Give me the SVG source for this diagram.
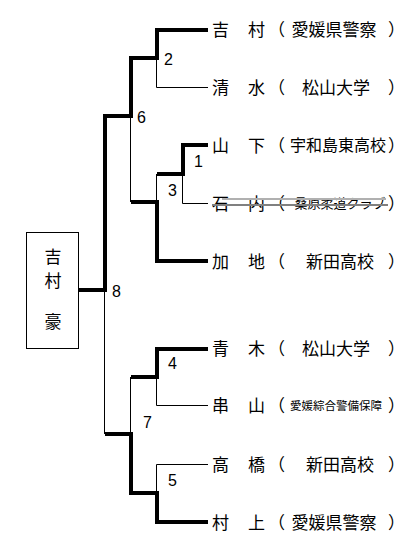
<svg xmlns="http://www.w3.org/2000/svg" width="407" height="552" viewBox="0 0 407 552">
<style>
.thick{fill:none;stroke:#000;stroke-width:4;stroke-linejoin:miter;stroke-linecap:butt}
.thin{fill:none;stroke:#000;stroke-width:1}
.nm{font-family:"Noto Sans CJK JP","Noto Sans CJK SC",sans-serif;font-size:17px;fill:#000}
.org{font-family:"Noto Sans CJK JP","Noto Sans CJK SC",sans-serif;fill:#000;text-anchor:middle}
.pr{font-family:"Noto Sans CJK JP","Noto Sans CJK SC",sans-serif;font-size:17px;fill:#000}
.num{font-family:"Liberation Sans",Arial,sans-serif;font-size:16px;fill:#000}
</style>
<rect width="407" height="552" fill="#fff"/>
<g id="connectors">
<path class="thick" d="M208,30 H157 V58 H131 V116 H105 V290 H79"/>
<path class="thick" d="M208,145 H183 V174 H157"/>
<path class="thick" d="M208,261 H157 V202 H131"/>
<path class="thick" d="M208,349 H157 V377 H131"/>
<path class="thick" d="M208,522 H157 V493 H131 V434 H105"/>
<path class="thin" d="M208,87.5 H156.5 V58"/>
<path class="thin" d="M208,203.5 H182.5 V174"/>
<path class="thin" d="M156.5,174 V202"/>
<path class="thin" d="M130.5,116 V202"/>
<path class="thin" d="M104.5,290 V434"/>
<path class="thin" d="M208,405.5 H156.5 V377"/>
<path class="thin" d="M208,464.5 H156.5 V493"/>
<path class="thin" d="M130.5,377 V434"/>
</g>
<g id="labels">
<text class="num" x="164" y="65">2</text>
<text class="num" x="137" y="123">6</text>
<text class="num" x="112" y="297">8</text>
<text class="num" x="194" y="167">1</text>
<text class="num" x="168" y="196">3</text>
<text class="num" x="168" y="369">4</text>
<text class="num" x="143" y="428">7</text>
<text class="num" x="168" y="486">5</text>
</g>
<g id="champion">
<rect x="26.5" y="232.5" width="52" height="116" fill="#fff" stroke="#000" stroke-width="1"/>
<text class="nm" x="53" y="263" text-anchor="middle">吉</text>
<text class="nm" x="53" y="287" text-anchor="middle">村</text>
<text class="nm" x="53" y="328" text-anchor="middle">豪</text>
</g>
<g id="p1">
<text class="nm" x="212" y="36">吉</text><text class="nm" x="248" y="36">村</text>
<text class="pr" x="268" y="36">（</text><text class="org" x="334" y="36" font-size="17">愛媛県警察</text><text class="pr" x="388" y="36">）</text>
</g>
<g id="p2">
<text class="nm" x="212" y="94">清</text><text class="nm" x="248" y="94">水</text>
<text class="pr" x="268" y="94">（</text><text class="org" x="336" y="94" font-size="17">松山大学</text><text class="pr" x="388" y="94">）</text>
</g>
<g id="p3">
<text class="nm" x="212" y="152">山</text><text class="nm" x="248" y="152">下</text>
<text class="pr" x="268" y="152">（</text><text class="org" x="338" y="151" font-size="16">宇和島東高校</text><text class="pr" x="388" y="152">）</text>
</g>
<g id="p4">
<text class="nm" x="212" y="210">石</text><text class="nm" x="248" y="210">内</text>
<text class="pr" x="268" y="210">（</text><text class="org" x="340" y="208" font-size="13">桑原柔道クラブ</text><text class="pr" x="388" y="210">）</text>
<line x1="222" y1="199" x2="386" y2="199" stroke="#b0b0b0" stroke-width="2"/>
<line x1="212" y1="205" x2="388" y2="205" stroke="#808080" stroke-width="2"/>
</g>
<g id="p5">
<text class="nm" x="212" y="268">加</text><text class="nm" x="248" y="268">地</text>
<text class="pr" x="268" y="268">（</text><text class="org" x="340" y="268" font-size="17">新田高校</text><text class="pr" x="388" y="268">）</text>
</g>
<g id="p6">
<text class="nm" x="212" y="355">青</text><text class="nm" x="248" y="355">木</text>
<text class="pr" x="268" y="355">（</text><text class="org" x="336" y="355" font-size="17">松山大学</text><text class="pr" x="388" y="355">）</text>
</g>
<g id="p7">
<text class="nm" x="212" y="412">串</text><text class="nm" x="248" y="412">山</text>
<text class="pr" x="268" y="412">（</text><text class="org" x="336" y="410" font-size="11.5">愛媛綜合警備保障</text><text class="pr" x="388" y="412">）</text>
</g>
<g id="p8">
<text class="nm" x="212" y="471">高</text><text class="nm" x="248" y="471">橋</text>
<text class="pr" x="268" y="471">（</text><text class="org" x="340" y="471" font-size="17">新田高校</text><text class="pr" x="388" y="471">）</text>
</g>
<g id="p9">
<text class="nm" x="212" y="529">村</text><text class="nm" x="248" y="529">上</text>
<text class="pr" x="268" y="529">（</text><text class="org" x="334" y="529" font-size="17">愛媛県警察</text><text class="pr" x="388" y="529">）</text>
</g>
</svg>
